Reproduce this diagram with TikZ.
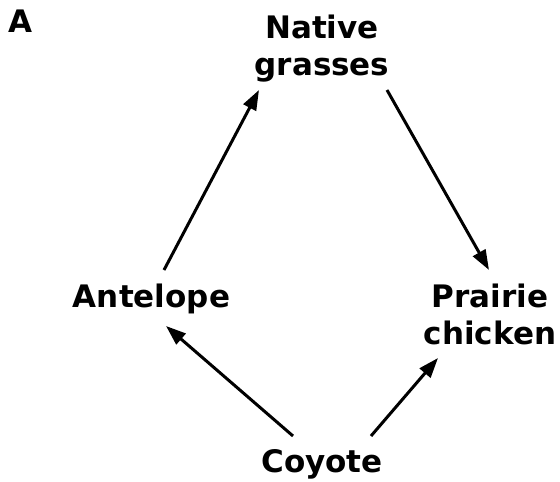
\documentclass[tikz,border=0pt]{standalone}
\usepackage{fontspec}
\setmainfont{DejaVu Sans}
\usetikzlibrary{arrows.meta}
\begin{document}
\begin{tikzpicture}[x=1pt,y=-1pt,
  lbl/.style={font=\bfseries\fontsize{31}{37}\selectfont, align=center, inner sep=0pt},
  arr/.style={line width=3pt, -{Triangle[length=20pt,width=14pt]}}]
\useasboundingbox (0,0) rectangle (560,482);
\node[lbl, anchor=base] (lab) at (20.5,32) {A};
\node[lbl] (ng) at (322,48.4) {Native\\grasses};
\node[lbl, anchor=base] (ant) at (151.5,307) {Antelope};
\node[lbl] (pc) at (490,314.7) {Prairie\\chicken};
\node[lbl, anchor=base] (coy) at (322,472) {Coyote};
\draw[arr] ([shift={(12.5,-37)}]ant.base) -- ([shift={(-63,41.6)}]ng.center);
\draw[arr] ([shift={(65,41.6)}]ng.center) -- ([shift={(-1,-44.7)}]pc.center);
\draw[arr] ([shift={(-29,-36)}]coy.base) -- ([shift={(14.5,19)}]ant.base);
\draw[arr] ([shift={(49,-36)}]coy.base) -- ([shift={(-52,43.3)}]pc.center);
\end{tikzpicture}
\end{document}
